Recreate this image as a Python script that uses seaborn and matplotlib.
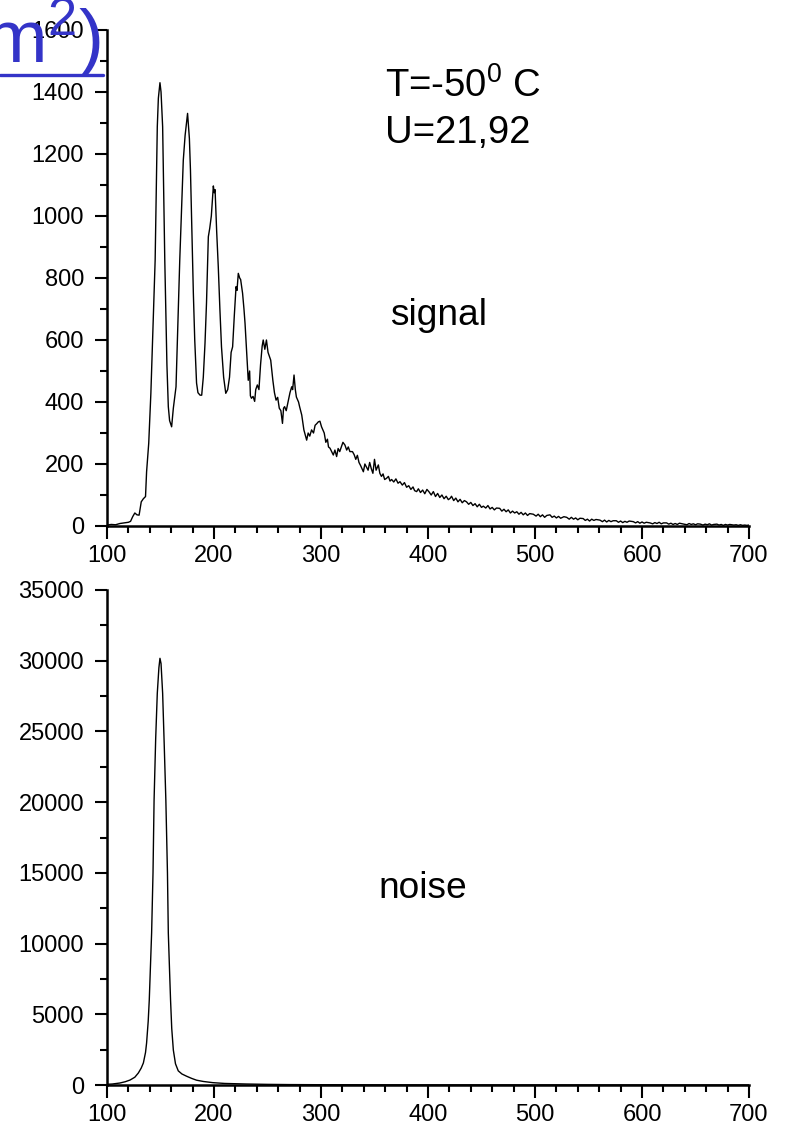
import matplotlib
matplotlib.use("Agg")
import matplotlib.pyplot as plt
from matplotlib.ticker import MultipleLocator
from matplotlib.lines import Line2D
import seaborn as sns
import pandas as pd

# ---------------- data ----------------
signal_x = [100, 104, 108, 112, 116, 120, 122, 124, 126, 128, 130, 132, 134, 136, 137, 139, 141, 143, 145, 147,
            148, 149.5, 150.5, 152, 154, 156, 157.3, 158.5, 160.4, 162, 164.5, 166, 168, 170, 171.3, 173, 175.3, 177,
            178, 180.7, 182, 183.7, 185, 187, 188.5, 190, 191.6, 193, 194.7, 196, 197.5, 199.4, 200.2, 201, 202.5,
            204, 205.5, 207, 209, 211, 212.8, 214.5, 216, 217.4, 219, 220.6, 221.5, 222.7, 224, 224.9, 226.7, 228,
            229, 230.5, 232, 233.3, 234, 235, 236.5, 238, 239, 240.5, 242, 243.5, 245, 246, 247.5, 249, 250.5, 253,
            255, 256.5, 258, 259.5, 261, 262.5, 264, 265, 266, 267.5, 269.5, 271, 272.6, 273.5, 274.8, 276, 277, 279,
            280, 282, 284, 286.6, 288, 289.5, 291.2, 293, 294.5, 296, 297.5, 299, 300.5, 301.7, 303, 304.5, 306, 307,
            308.4, 310, 311.5, 313, 314.6, 316, 317.5, 319, 320.5, 322.4, 324, 325.5, 327, 329.4, 331, 332.5, 334,
            335.5, 337, 339.6, 341, 342.5, 344, 345.5, 347, 348.5, 350, 351.5, 353.6, 355, 356.5, 358, 359.5, 361.3,
            363, 364.5, 366, 368, 370, 372, 373.8, 376, 378, 380, 382, 384, 386, 387.5, 389.4, 391, 393, 395, 397,
            399, 401, 403, 405, 407, 409, 411, 413, 415, 417, 419, 420.6, 422, 424, 426, 428, 430, 432, 434, 436, 438,
            440, 442, 444, 446, 448, 450, 451.7, 454, 456, 458, 460, 462, 464, 467, 469, 471, 473, 475, 477, 479, 481,
            483, 485, 487, 489, 491, 493, 495, 498.4, 501, 503, 505, 507, 509, 511, 514, 516, 518, 520, 522, 524, 527,
            529.6, 532, 534, 536, 538, 540, 542, 545, 547, 549, 551, 553, 555, 557, 560.7, 563, 565, 567, 569, 571,
            573, 576, 578, 580, 582, 584, 586, 588, 591.9, 594, 596, 598, 600, 602, 604, 607.5, 610, 612, 614, 616,
            618, 620, 623, 625, 627, 629, 631, 633, 635, 639, 642, 644, 646, 648, 650, 652, 654.6, 657, 659, 661, 663,
            665, 667, 670, 672, 674, 676, 678, 680, 682, 685.8, 688, 690, 692, 694, 696, 698, 700]
signal_y = [3, 5, 4, 8, 10, 12, 15, 30, 42, 36, 35, 78, 88, 95, 175, 267, 428, 640, 858, 1288,
            1380, 1430, 1400, 1288, 858, 520, 385, 340, 320, 380, 449, 620, 858, 1050, 1180, 1260, 1331, 1250,
            1148, 751, 600, 461, 430, 422, 422, 480, 590, 720, 933, 960, 1000, 1097, 1075, 1085, 950,
            836, 700, 578, 480, 428, 440, 480, 560, 578, 680, 772, 760, 815, 800, 795, 751, 700,
            654, 560, 470, 500, 420, 412, 418, 402, 440, 455, 440, 520, 580, 600, 570, 600, 560, 535,
            470, 430, 406, 415, 380, 372, 331, 380, 385, 372, 406, 430, 449, 440, 487, 440, 416, 400,
            385, 358, 310, 277, 300, 290, 310, 300, 325, 330, 336, 338, 320, 310, 300, 270, 280, 255,
            251, 240, 229, 245, 224, 250, 240, 255, 270, 261, 245, 255, 240, 240, 230, 215, 228,
            205, 195, 175, 200, 190, 180, 205, 185, 170, 215, 180, 197, 170, 160, 168, 150, 154,
            160, 145, 150, 142, 152, 138, 143, 132, 140, 125, 130, 118, 126, 114, 111, 120, 108, 116, 104,
            118, 110, 100, 111, 95, 105, 92, 100, 88, 96, 85, 89, 96, 82, 90, 78, 86, 75, 82, 78, 70,
            76, 66, 72, 62, 70, 60, 64, 58, 66, 55, 60, 52, 58, 57, 48, 54, 46, 52, 42, 48, 42,
            46, 38, 44, 36, 42, 34, 40, 38, 32, 38, 30, 36, 28, 34, 36, 28, 32, 26, 31, 25, 30,
            28, 22, 28, 22, 26, 20, 25, 24, 18, 22, 16, 22, 18, 21, 19, 14, 19, 13, 18, 14,
            17, 17, 12, 16, 11, 15, 12, 16, 14, 10, 14, 9, 13, 9, 12, 10, 7, 11, 8, 12,
            7, 10, 10, 6, 9, 5, 8, 5, 9, 6, 4, 8, 5, 7, 4, 7, 6, 3, 6, 4, 7,
            3, 5, 6, 3, 5, 2, 5, 3, 5, 3, 4, 2, 4, 2, 3, 2, 3]

noise_x = [100, 105, 112, 117, 121.5, 126, 129.3, 132, 134, 136, 137, 138.5, 139.5, 141.7, 143, 144, 145.5, 147,
           148.5, 149.5, 150.5, 152, 153.5, 155, 156.5, 157.3, 158.5, 159.4, 160.5, 162, 164, 166.6, 170, 174.4,
           179, 183.7, 190, 199, 210, 230, 250, 270, 300, 350, 400, 500, 600, 700]
noise_y = [50, 70, 140, 230, 350, 550, 850, 1200, 1560, 2300, 2970, 4500, 6000, 10750, 15000, 20150, 24500, 27700,
           29500, 30170, 29800, 27700, 24000, 20150, 15000, 10750, 8000, 6000, 4000, 2470, 1500, 1000, 780, 620,
           470, 340, 250, 165, 110, 70, 45, 30, 20, 12, 8, 5, 3, 2]

x_ticks = [100, 200, 300, 400, 500, 600, 700]
signal_yticks = [0, 200, 400, 600, 800, 1000, 1200, 1400, 1600]
noise_yticks = [0, 5000, 10000, 15000, 20000, 25000, 30000, 35000]

# ---------------- style ----------------
sns.set_style("ticks")
plt.rcParams["font.family"] = ["Liberation Sans", "DejaVu Sans"]
plt.rcParams["mathtext.fontset"] = "custom"
plt.rcParams["mathtext.rm"] = "Liberation Sans"
plt.rcParams["mathtext.it"] = "Liberation Sans:italic"
plt.rcParams["text.color"] = "black"
plt.rcParams["axes.labelcolor"] = "black"
plt.rcParams["xtick.color"] = "black"
plt.rcParams["ytick.color"] = "black"

W, H = 786, 1133
fig = plt.figure(figsize=(W / 100, H / 100), dpi=100)
ax1 = fig.add_axes([107 / W, 1 - 526 / H, 642 / W, 496 / H])
ax2 = fig.add_axes([107 / W, 1 - 1085 / H, 642 / W, 495 / H])

sig_df = pd.DataFrame({"x": signal_x, "y": signal_y})
noi_df = pd.DataFrame({"x": noise_x, "y": noise_y})
sns.lineplot(data=sig_df, x="x", y="y", ax=ax1, color="black", linewidth=1.0, estimator=None, sort=False)
sns.lineplot(data=noi_df, x="x", y="y", ax=ax2, color="black", linewidth=1.0, estimator=None, sort=False)


def style(ax, yticks, yminor):
    ax.set_xlim(100, 700)
    ax.set_ylim(yticks[0], yticks[-1])
    ax.set_xticks(x_ticks)
    ax.set_yticks(yticks)
    ax.xaxis.set_minor_locator(MultipleLocator(20))
    ax.yaxis.set_minor_locator(MultipleLocator(yminor))
    ax.set_xlabel("")
    ax.set_ylabel("")
    for s in ["top", "right"]:
        ax.spines[s].set_visible(False)
    for s in ["left", "bottom"]:
        ax.spines[s].set_linewidth(1.8)
        ax.spines[s].set_color("black")
    ax.tick_params(axis="both", which="major", direction="out", length=9, width=1.5,
                   labelsize=17, colors="black", labelcolor="black")
    ax.tick_params(axis="x", which="major", pad=4.5)
    ax.tick_params(axis="y", which="major", pad=7.5)
    ax.tick_params(axis="both", which="minor", direction="out", length=5, width=1.5, colors="black")
    ax.patch.set_alpha(0)


style(ax1, signal_yticks, 100)
style(ax2, noise_yticks, 2500)

# annotations
fig.text(385 / W, 1 - 96.7 / H, r"T=-50$^{\mathrm{0}}$ C", fontsize=27.5, va="baseline", ha="left", color="black")
fig.text(385 / W, 1 - 143 / H, "U=21,92", fontsize=27.5, va="baseline", ha="left", color="black")
fig.text(390 / W, 1 - 325 / H, "signal", fontsize=26.7, va="baseline", ha="left", color="black")
fig.text(378 / W, 1 - 898 / H, "noise", fontsize=26.7, va="baseline", ha="left", color="black")

# blue handwritten-like fragment at the top-left corner
blue = "#3434c8"
fig.text(101 / W, 1 - 63 / H, r"m$^{\mathrm{2}}$)", fontsize=54, color=blue, va="baseline", ha="right")
fig.add_artist(Line2D([0, 103 / W], [1 - 75 / H, 1 - 75 / H], color=blue, linewidth=2.4,
                      transform=fig.transFigure))

fig.savefig("out.png", dpi=100)
